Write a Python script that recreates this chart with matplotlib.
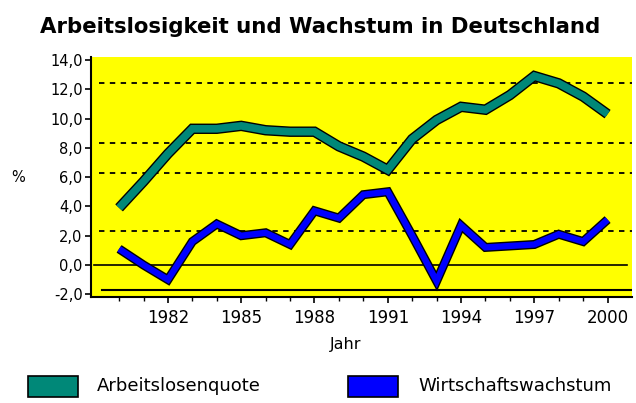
import matplotlib
matplotlib.use("Agg")
import matplotlib.pyplot as plt
import matplotlib.patheffects as pe
from matplotlib.patches import Rectangle

years = list(range(1980, 2001))
arbeitslosenquote = [3.9, 5.7, 7.6, 9.3, 9.3, 9.5, 9.2, 9.1, 9.1, 8.1, 7.4, 6.5,
                     8.6, 9.9, 10.8, 10.6, 11.6, 12.9, 12.4, 11.5, 10.3]
wirtschaftswachstum = [1.1, 0.0, -1.0, 1.6, 2.8, 2.0, 2.2, 1.4, 3.7, 3.2, 4.8, 5.0,
                       2.0, -1.1, 2.7, 1.2, 1.3, 1.4, 2.1, 1.6, 3.1]
xtick_years = [1982, 1985, 1988, 1991, 1994, 1997, 2000]
yticks = [-2, 0, 2, 4, 6, 8, 10, 12, 14]
ytick_labels = ["-2,0", "0,0", "2,0", "4,0", "6,0", "8,0", "10,0", "12,0", "14,0"]
grid_levels = [12.4, 8.35, 6.3, 2.35]
title = "Arbeitslosigkeit und Wachstum in Deutschland"
series_names = ["Arbeitslosenquote", "Wirtschaftswachstum"]

TEAL = "#008878"
BLUE = "#0000FF"
YELLOW = "#FFFF00"

plt.rcParams['font.family'] = ['DejaVu Sans']

fig = plt.figure(figsize=(6.36, 4.03), dpi=100)
ax = fig.add_axes([91/636, 1-296.5/403, 541/636, 239.5/403])
ax.set_facecolor(YELLOW)
ax.set_xlim(1978.85, 2001.0)
ax.set_ylim(-2.15, 14.2)

for g in grid_levels:
    ax.axhline(g, xmin=0.015, xmax=1.0, color="black", lw=1.3,
               linestyle=(0, (3, 3)), zorder=1)
ax.axhline(0, xmin=0.005, xmax=0.99, color="black", lw=1.2, zorder=1)
ax.axhline(-1.7, xmin=0.02, xmax=1.0, color="black", lw=1.5, zorder=1)

ax.plot(years, arbeitslosenquote, color=TEAL, lw=5.5, solid_joinstyle="miter",
        solid_capstyle="butt", zorder=3,
        path_effects=[pe.Stroke(linewidth=7.5, foreground="black"), pe.Normal()])
ax.plot(years, wirtschaftswachstum, color=BLUE, lw=4.5, solid_joinstyle="miter",
        solid_capstyle="butt", zorder=3,
        path_effects=[pe.Stroke(linewidth=6.5, foreground="black"), pe.Normal()])

ax.set_xticks(years, minor=True)
ax.set_xticks(xtick_years)
ax.set_xticklabels([str(y) for y in xtick_years], fontsize=12)
ax.tick_params(axis="x", which="major", length=4, width=1.2, pad=5)
ax.tick_params(axis="x", which="minor", length=3, width=1.0)
ax.set_yticks(yticks)
ax.set_yticklabels(ytick_labels, fontsize=10.5)
ax.tick_params(axis="y", length=4, width=1.2, pad=2)

for s in ["top", "right"]:
    ax.spines[s].set_visible(False)
ax.spines["left"].set_linewidth(1.5)
ax.spines["bottom"].set_linewidth(1.5)

fig.text(346/636, 1-345/403, "Jahr", fontsize=11.5, ha="center", va="center")
fig.text(18/636, 1-178/403, "%", fontsize=10.5, ha="center", va="center")
fig.text(320/636, 1-27/403, title, fontsize=15.3, fontweight="bold",
         ha="center", va="center")

# legend
fig.patches.append(Rectangle((28/636, 1-397/403), 50/636, 21/403,
                             transform=fig.transFigure, facecolor=TEAL,
                             edgecolor="black", lw=1.2))
fig.text(97/636, 1-386/403, series_names[0], fontsize=13, va="center")
fig.patches.append(Rectangle((348/636, 1-397/403), 50/636, 21/403,
                             transform=fig.transFigure, facecolor=BLUE,
                             edgecolor="black", lw=1.2))
fig.text(418/636, 1-386/403, series_names[1], fontsize=13, va="center")

fig.savefig("out.png", dpi=100)
